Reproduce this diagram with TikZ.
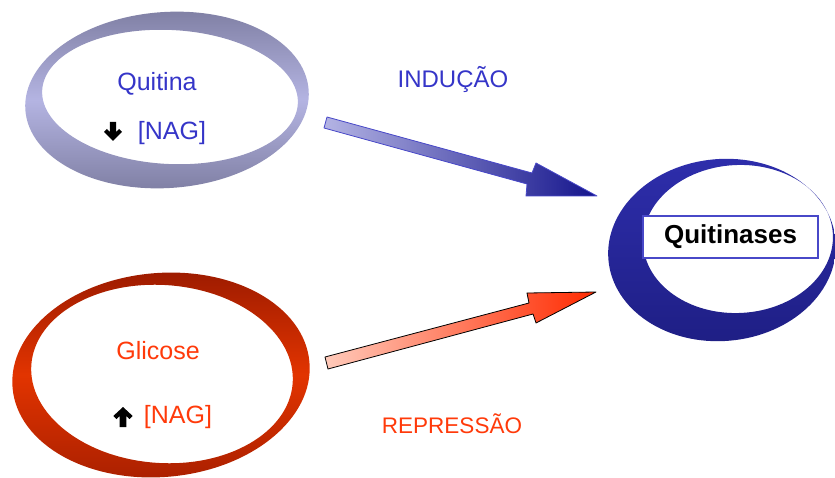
\documentclass[tikz,border=0pt]{standalone}
\usepackage{fontspec}
\setmainfont{Liberation Sans}
\begin{document}
\begin{tikzpicture}[x=1pt,y=-1pt]
\definecolor{txtblue}{HTML}{3535C8}
\definecolor{txtred}{HTML}{FF3A0A}
\definecolor{ringAdark}{HTML}{7E7EA2}
\definecolor{ringAlight}{HTML}{B4B4E2}
\definecolor{ringBdark}{HTML}{9A1A00}
\definecolor{ringBlight}{HTML}{E23400}
\definecolor{ringCtop}{HTML}{2E2EAC}
\definecolor{ringCbot}{HTML}{1E1E84}
\definecolor{arrBlight}{HTML}{B4B4E4}
\definecolor{arrBdark}{HTML}{14148C}
\definecolor{arrRlight}{HTML}{FFCABA}
\definecolor{arrRdark}{HTML}{FF2A00}
\definecolor{boxblue}{HTML}{4848C8}
\tikzset{
  lbl/.style={font=\fontsize{25}{29}\selectfont, anchor=base, inner sep=0pt},
  updown/.style={fill=black, draw=none},
}
\useasboundingbox (0,0) rectangle (835,478);
% ring 1: Quitina
\shade[even odd rule, top color=ringAdark, bottom color=ringAdark, middle color=ringAlight]
  {[shift={(167,100)}, rotate=4] (0,0) ellipse [x radius=142pt, y radius=88pt]}
  {[shift={(170,97)}, rotate=-3] (0,0) ellipse [x radius=128pt, y radius=67pt]};
% ring 2: Glicose
\shade[even odd rule, top color=ringBdark, bottom color=ringBdark!80!ringBlight, middle color=ringBlight]
  {[shift={(161,375)}, rotate=5] (0,0) ellipse [x radius=149pt, y radius=102pt]}
  {[shift={(162,374)}, rotate=-4] (0,0) ellipse [x radius=131pt, y radius=89pt]};
% ring 3: Quitinases
\shade[even odd rule, top color=ringCtop, bottom color=ringCbot]
  {[shift={(722,250)}, rotate=5] (0,0) ellipse [x radius=114pt, y radius=91pt]}
  {[shift={(738,239)}, rotate=3] (0,0) ellipse [x radius=95pt, y radius=74pt]};

% texts
\node[lbl, text=txtblue] (quitina) at (157,91) {Quitina};
\node[lbl, text=txtblue] (nag1) at (172,140) {[NAG]};
\node[lbl, text=txtblue, font=\fontsize{24}{28}\selectfont] (inducao) at (453,88) {INDUÇÃO};
\node[lbl, text=txtred] (glicose) at (158,359) {Glicose};
\node[lbl, text=txtred] (nag2) at (178,423) {[NAG]};
\node[lbl, text=txtred, font=\fontsize{22.5}{27}\selectfont] (repressao) at (452,433) {REPRESSÃO};
\node[draw=boxblue, line width=1.2pt, fill=white, minimum width=175pt, minimum height=42pt,
      font=\fontsize{26}{30}\selectfont\bfseries, inner sep=0pt] (quitinases) at (730.5,237) {Quitinases};

% small black arrows
\coordinate (dn) at (113,131);
\fill[updown, shift={(dn)}] (-3.2,-9) -- (3.2,-9) -- (3.2,1) -- (6,-2) -- (9,1) -- (0,10)
  -- (-9,1) -- (-6,-2) -- (-3.2,1) -- cycle;
\coordinate (up) at (123,417);
\fill[updown, shift={(up)}] (-3.4,10) -- (3.4,10) -- (3.4,-1) -- (6.5,2) -- (9.7,-1) -- (0,-10)
  -- (-9.7,-1) -- (-6.5,2) -- (-3.4,-1) -- cycle;

% block arrows
\coordinate (b1) at (327,117);
\coordinate (b2) at (324,128);
\coordinate (b3) at (527,184);
\coordinate (b4) at (526,196);
\coordinate (b5) at (597,196);
\coordinate (b6) at (536,163);
\coordinate (b7) at (532,173);
\shade[left color=arrBlight, right color=arrBdark] (b1) -- (b2) -- (b3) -- (b4) -- (b5) -- (b6) -- (b7) -- cycle;
\draw[boxblue, line width=0.8pt, line join=round] (b1) -- (b2) -- (b3) -- (b4) -- (b5) -- (b6) -- (b7) -- cycle;

\coordinate (r1) at (325,357);
\coordinate (r2) at (328,369);
\coordinate (r3) at (533,314);
\coordinate (r4) at (536,323);
\coordinate (r5) at (596,292);
\coordinate (r6) at (527,293);
\coordinate (r7) at (529,303);
\shade[left color=arrRlight, right color=arrRdark] (r1) -- (r2) -- (r3) -- (r4) -- (r5) -- (r6) -- (r7) -- cycle;
\draw[black, line width=0.8pt, line join=round] (r1) -- (r2) -- (r3) -- (r4) -- (r5) -- (r6) -- (r7) -- cycle;
\end{tikzpicture}
\end{document}
